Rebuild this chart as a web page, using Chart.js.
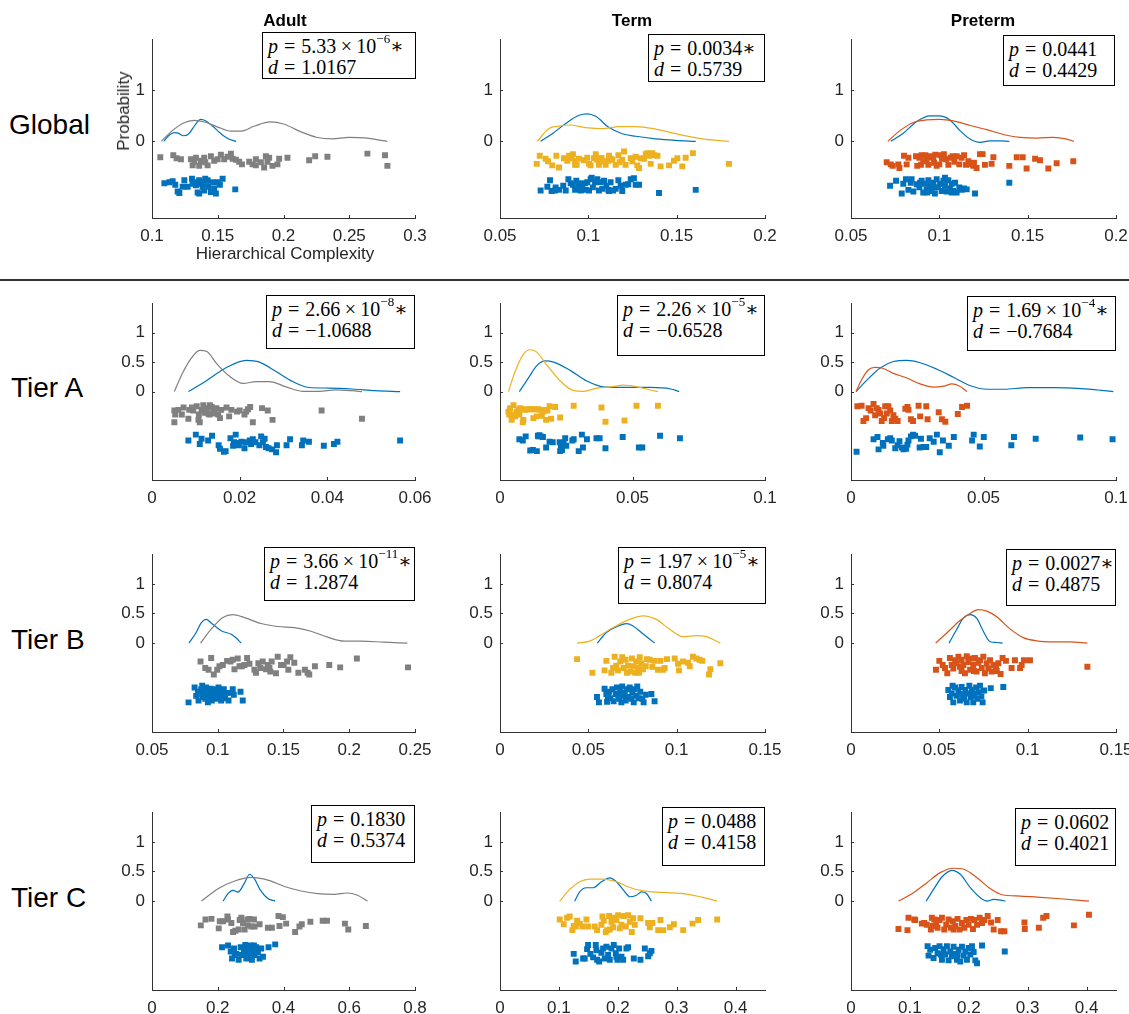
<!DOCTYPE html>
<html>
<head>
<meta charset="utf-8">
<title>Hierarchical complexity raincloud panels</title>
<script src="https://cdn.jsdelivr.net/npm/chart.js@4.4.1/dist/chart.umd.min.js"></script>
<style>
    body { margin: 0; background: #fff; }
    #fig { position: relative; width: 1129px; height: 1014px; overflow: hidden; background: #fff; font-family: "Liberation Sans", Arial, sans-serif; color: #000; }
    #fig canvas { position: absolute; }
    .row-label { position: absolute; font-size: 28px; line-height: 30px; white-space: nowrap; }
    .col-title { position: absolute; width: 200px; margin-left: -100px; text-align: center; font-size: 17px; line-height: 20px; font-weight: bold; }
    .axis-label { position: absolute; font-size: 17px; line-height: 20px; color: #262626; white-space: nowrap; }
    .stat { position: absolute; box-sizing: border-box; border: 1px solid #000; background: #fff; padding: 3px 0 0 5px;
            font-family: "Liberation Serif", "DejaVu Serif", serif; font-size: 20px; line-height: 21px; white-space: nowrap; }
    .stat .rel { margin: 0 0.3em; }
    .stat .bin { margin: 0 0.22em; }
    .stat sup { font-size: 13px; line-height: 0; position: relative; top: -2px; }
    .sep { position: absolute; left: 0; top: 279px; width: 1129px; height: 2px; background: #333; }
</style>
</head>
<body>
<div id="fig">
    <div class="sep"></div>
</div>
<script>
// ---- data: density curves [x, probability] and jittered points [x, y] ----

// Global
const gAdultCurve = [[0.107,0],[0.115,0.2],[0.124,0.36],[0.132,0.41],[0.140,0.38],[0.150,0.28],[0.160,0.2],[0.168,0.2],[0.178,0.3],[0.190,0.38],[0.200,0.34],[0.212,0.2],[0.225,0.08],[0.237,0.05],[0.250,0.08],[0.262,0.07],[0.272,0.03],[0.279,0]];
const gAdultBlueCurve = [[0.109,0],[0.113,0.12],[0.117,0.17],[0.120,0.16],[0.124,0.11],[0.128,0.15],[0.133,0.33],[0.137,0.43],[0.141,0.40],[0.146,0.30],[0.152,0.16],[0.158,0.05],[0.164,0]];
const gAdultPts = [[0.1063,-0.31],[0.1162,-0.27],[0.1187,-0.33],[0.122,-0.35],[0.1296,-0.35],[0.1322,-0.4],[0.1334,-0.32],[0.1359,-0.48],[0.1397,-0.32],[0.1405,-0.41],[0.1423,-0.47],[0.1448,-0.29],[0.1473,-0.38],[0.1499,-0.35],[0.1524,-0.26],[0.1549,-0.35],[0.1575,-0.3],[0.16,-0.24],[0.1613,-0.34],[0.1638,-0.36],[0.1663,-0.4],[0.1684,-0.45],[0.1739,-0.4],[0.1765,-0.45],[0.179,-0.35],[0.1828,-0.41],[0.1853,-0.51],[0.1866,-0.29],[0.1878,-0.4],[0.1891,-0.32],[0.1916,-0.48],[0.1954,-0.45],[0.1967,-0.34],[0.203,-0.32],[0.2195,-0.37],[0.2241,-0.29],[0.2334,-0.3],[0.2638,-0.24],[0.2772,-0.27],[0.279,-0.48],[0.1309,-0.47],[0.1372,-0.38],[0.179,-0.47]];
const gAdultBluePts = [[0.1094,-0.82],[0.1132,-0.8],[0.1157,-0.78],[0.1177,-0.85],[0.1195,-0.98],[0.1208,-1.01],[0.1233,-0.89],[0.1246,-0.76],[0.1271,-0.89],[0.1304,-0.73],[0.1322,-0.8],[0.1334,-0.86],[0.1347,-1.0],[0.1359,-1.02],[0.1372,-0.83],[0.1385,-0.89],[0.1397,-0.96],[0.1405,-0.73],[0.1415,-0.83],[0.143,-0.89],[0.1448,-0.99],[0.1461,-0.8],[0.1473,-0.92],[0.1486,-1.02],[0.1499,-0.8],[0.1516,-0.85],[0.1537,-0.73],[0.1309,-0.83],[0.1359,-0.76],[0.1385,-0.8],[0.1633,-0.94],[0.1423,-0.76]];

const gTermCurve = [[0.0711,0],[0.0777,0.25],[0.0834,0.30],[0.089,0.32],[0.0985,0.27],[0.108,0.25],[0.1174,0.29],[0.1268,0.29],[0.1381,0.24],[0.1494,0.15],[0.1645,0.05],[0.1796,0]];
const gTermBlueCurve = [[0.073,0],[0.0796,0.15],[0.0872,0.35],[0.0947,0.51],[0.0994,0.54],[0.1042,0.49],[0.1117,0.27],[0.1192,0.15],[0.1268,0.10],[0.1381,0.05],[0.1494,0.02],[0.1608,0]];
const gTermPts = [[0.0708,-0.44],[0.0725,-0.28],[0.0758,-0.34],[0.0772,-0.39],[0.0796,-0.47],[0.0819,-0.28],[0.0834,-0.51],[0.0881,-0.38],[0.0891,-0.28],[0.0904,-0.33],[0.0913,-0.25],[0.0925,-0.38],[0.0934,-0.46],[0.0947,-0.34],[0.0975,-0.37],[0.0994,-0.32],[0.1004,-0.44],[0.1013,-0.47],[0.1032,-0.33],[0.1042,-0.25],[0.1051,-0.36],[0.106,-0.46],[0.1075,-0.33],[0.1085,-0.39],[0.1098,-0.46],[0.1113,-0.38],[0.1117,-0.28],[0.1126,-0.34],[0.1136,-0.36],[0.1155,-0.46],[0.1177,-0.41],[0.1192,-0.36],[0.1202,-0.2],[0.1211,-0.46],[0.124,-0.33],[0.1249,-0.39],[0.1268,-0.3],[0.1277,-0.47],[0.1287,-0.52],[0.1296,-0.33],[0.1315,-0.34],[0.1325,-0.25],[0.1334,-0.23],[0.1343,-0.28],[0.1362,-0.23],[0.1372,-0.27],[0.1391,-0.28],[0.1409,-0.49],[0.1457,-0.47],[0.1485,-0.38],[0.1504,-0.33],[0.1532,-0.49],[0.1551,-0.32],[0.1592,-0.23],[0.1796,-0.44],[0.0925,-0.46],[0.107,-0.33],[0.117,-0.27],[0.0862,-0.33],[0.1353,-0.44]];
const gTermBluePts = [[0.073,-0.96],[0.0768,-0.89],[0.0783,-0.76],[0.0792,-0.97],[0.0811,-0.96],[0.0834,-0.95],[0.0858,-0.87],[0.0872,-0.96],[0.0887,-0.74],[0.09,-0.82],[0.0913,-0.85],[0.0925,-0.95],[0.0932,-0.77],[0.0947,-0.9],[0.0957,-0.96],[0.0966,-0.85],[0.0981,-0.82],[0.0994,-0.8],[0.1004,-0.96],[0.1013,-0.74],[0.1019,-0.71],[0.1026,-0.9],[0.1038,-0.8],[0.1051,-0.74],[0.106,-0.96],[0.107,-0.8],[0.1079,-0.93],[0.1089,-0.77],[0.1102,-0.87],[0.1113,-0.95],[0.1126,-0.8],[0.114,-0.96],[0.1155,-0.93],[0.117,-0.76],[0.1183,-0.87],[0.1192,-0.97],[0.1211,-0.85],[0.1226,-0.84],[0.124,-0.74],[0.1258,-0.72],[0.1268,-0.85],[0.1287,-0.85],[0.14,-1.01],[0.1608,-0.95],[0.0947,-0.82],[0.0985,-0.95],[0.1117,-0.97],[0.0815,-0.9]];

const gPretermCurve = [[0.0708,0],[0.0777,0.21],[0.0853,0.37],[0.0928,0.42],[0.1004,0.43],[0.1079,0.40],[0.1174,0.31],[0.1268,0.23],[0.1381,0.12],[0.1457,0.08],[0.1551,0.065],[0.1645,0.08],[0.1721,0.045],[0.1762,0]];
const gPretermBlueCurve = [[0.0725,0],[0.0796,0.16],[0.0872,0.39],[0.0947,0.50],[0.0998,0.50],[0.106,0.42],[0.1117,0.21],[0.1174,0.045],[0.123,-0.02],[0.1287,0.01],[0.1343,0.01],[0.1396,0]];
const gPretermPts = [[0.0702,-0.41],[0.0725,-0.45],[0.0736,-0.48],[0.0768,-0.45],[0.0774,-0.52],[0.08,-0.28],[0.0815,-0.45],[0.0825,-0.32],[0.0868,-0.29],[0.0875,-0.48],[0.0887,-0.32],[0.0896,-0.46],[0.0909,-0.39],[0.0921,-0.27],[0.0928,-0.35],[0.0938,-0.46],[0.0947,-0.29],[0.0957,-0.31],[0.097,-0.42],[0.0977,-0.26],[0.0985,-0.48],[0.1,-0.45],[0.1008,-0.27],[0.1015,-0.34],[0.1026,-0.25],[0.1038,-0.35],[0.1051,-0.46],[0.1064,-0.32],[0.1075,-0.29],[0.1085,-0.4],[0.1098,-0.29],[0.1113,-0.45],[0.1126,-0.32],[0.114,-0.27],[0.1151,-0.46],[0.1164,-0.39],[0.1183,-0.45],[0.1196,-0.42],[0.1211,-0.52],[0.123,-0.25],[0.1245,-0.25],[0.1258,-0.46],[0.1296,-0.44],[0.1306,-0.31],[0.1396,-0.48],[0.1438,-0.31],[0.1472,-0.31],[0.1494,-0.53],[0.1542,-0.34],[0.157,-0.37],[0.1617,-0.53],[0.1664,-0.43],[0.1758,-0.39],[0.09,-0.27],[0.0966,-0.32],[0.1192,-0.48]];
const gPretermBluePts = [[0.0721,-0.87],[0.0755,-0.77],[0.0787,-1.02],[0.0811,-0.74],[0.0825,-0.95],[0.0838,-0.81],[0.0853,-0.98],[0.0872,-0.84],[0.0887,-0.9],[0.09,-0.77],[0.0909,-1.0],[0.0919,-0.83],[0.0928,-0.94],[0.0938,-0.76],[0.0947,-0.87],[0.0957,-0.97],[0.0966,-0.81],[0.0975,-1.02],[0.0985,-0.74],[0.0994,-0.9],[0.1004,-0.83],[0.1013,-0.97],[0.1023,-0.77],[0.1032,-0.87],[0.1042,-0.98],[0.1051,-0.76],[0.106,-0.92],[0.107,-0.83],[0.1079,-0.97],[0.1089,-0.81],[0.1098,-1.0],[0.1113,-0.9],[0.1126,-0.95],[0.114,-0.92],[0.1155,-0.94],[0.1202,-1.02],[0.1396,-0.81],[0.0891,-0.81],[0.0932,-1.0],[0.097,-0.9],[0.1032,-0.71],[0.107,-1.0],[0.0796,-0.83],[0.0843,-0.74]];

// Tier A
const aAdultCurve = [[0.0051,0],[0.0068,0.29],[0.0087,0.54],[0.0109,0.70],[0.0125,0.68],[0.0147,0.48],[0.0177,0.26],[0.0208,0.14],[0.0238,0.17],[0.0268,0.17],[0.0306,0.08],[0.0343,0.005],[0.0381,0.005],[0.0419,0.03],[0.0457,0.015],[0.0479,0]];
const aAdultBlueCurve = [[0.0083,0],[0.0125,0.19],[0.017,0.41],[0.0215,0.53],[0.0245,0.50],[0.0283,0.34],[0.0321,0.17],[0.0358,0.07],[0.0404,0.06],[0.0457,0.044],[0.0509,0.016],[0.0566,0]];
const aAdultPts = [[0.0051,-0.32],[0.0051,-0.52],[0.0053,-0.39],[0.006,-0.31],[0.0068,-0.39],[0.0072,-0.27],[0.0083,-0.46],[0.0085,-0.31],[0.0091,-0.27],[0.0094,-0.32],[0.0102,-0.25],[0.0106,-0.48],[0.0109,-0.52],[0.0113,-0.31],[0.0117,-0.23],[0.0121,-0.36],[0.0125,-0.28],[0.0128,-0.37],[0.0132,-0.23],[0.0136,-0.26],[0.014,-0.31],[0.0143,-0.37],[0.0147,-0.28],[0.0151,-0.39],[0.0155,-0.45],[0.0158,-0.31],[0.017,-0.27],[0.0176,-0.42],[0.0181,-0.31],[0.0194,-0.34],[0.02,-0.32],[0.0211,-0.39],[0.0215,-0.34],[0.0219,-0.3],[0.0224,-0.26],[0.023,-0.52],[0.0251,-0.28],[0.0264,-0.32],[0.0275,-0.48],[0.0387,-0.32],[0.0479,-0.46],[0.0107,-0.39],[0.0131,-0.39]];
const aAdultBluePts = [[0.0083,-0.83],[0.01,-0.73],[0.0109,-0.89],[0.0113,-0.8],[0.0128,-0.83],[0.0137,-0.75],[0.0152,-0.91],[0.0155,-0.97],[0.0164,-1.02],[0.0168,-1.01],[0.0179,-0.79],[0.0185,-0.92],[0.0191,-0.73],[0.0194,-0.87],[0.0198,-0.91],[0.0204,-0.85],[0.0211,-0.96],[0.0215,-0.86],[0.0223,-0.83],[0.023,-0.81],[0.0236,-0.86],[0.0245,-0.91],[0.0249,-0.76],[0.0253,-0.86],[0.0257,-0.8],[0.026,-0.94],[0.0266,-0.96],[0.0274,-0.98],[0.0283,-1.03],[0.0285,-0.91],[0.0307,-0.91],[0.0315,-0.81],[0.0342,-0.91],[0.0345,-0.83],[0.0358,-0.85],[0.0392,-0.92],[0.0415,-0.89],[0.0423,-0.85],[0.0566,-0.83],[0.0187,-0.86],[0.0226,-0.89]];

const aTermCurve = [[0.0032,0],[0.0057,0.34],[0.0088,0.63],[0.0114,0.71],[0.0139,0.67],[0.0177,0.45],[0.0227,0.18],[0.0278,0.016],[0.0316,0.005],[0.0366,0.06],[0.0417,0.08],[0.0467,0.11],[0.0518,0.08],[0.0568,0.027],[0.0596,0]];
const aTermBlueCurve = [[0.0073,0],[0.0107,0.23],[0.0139,0.44],[0.017,0.52],[0.0202,0.50],[0.0265,0.36],[0.0328,0.18],[0.0391,0.08],[0.0467,0.07],[0.0568,0.07],[0.0644,0.044],[0.0676,0]];
const aTermPts = [[0.0032,-0.34],[0.0038,-0.28],[0.0044,-0.48],[0.0048,-0.39],[0.0051,-0.23],[0.0057,-0.42],[0.0063,-0.34],[0.0069,-0.31],[0.0076,-0.28],[0.0082,-0.3],[0.0088,-0.48],[0.0095,-0.31],[0.0101,-0.3],[0.0114,-0.3],[0.0126,-0.45],[0.0133,-0.3],[0.0139,-0.42],[0.0152,-0.31],[0.0158,-0.41],[0.0164,-0.34],[0.017,-0.31],[0.0174,-0.48],[0.0179,-0.32],[0.0187,-0.25],[0.0193,-0.46],[0.0208,-0.26],[0.0227,-0.44],[0.0278,-0.24],[0.0383,-0.27],[0.0398,-0.51],[0.047,-0.49],[0.0515,-0.24],[0.0596,-0.24],[0.0035,-0.39],[0.012,-0.3],[0.0145,-0.3],[0.0073,-0.39],[0.0086,-0.52]];
const aTermBluePts = [[0.0073,-0.81],[0.0086,-0.83],[0.0097,-0.76],[0.0114,-1.0],[0.0124,-0.99],[0.0139,-1.01],[0.0143,-0.75],[0.0149,-0.74],[0.0154,-0.76],[0.0162,-0.77],[0.0174,-0.95],[0.0187,-0.85],[0.0199,-0.86],[0.0225,-0.86],[0.023,-0.92],[0.0234,-0.99],[0.024,-0.87],[0.0246,-0.79],[0.025,-0.92],[0.0273,-0.83],[0.0278,-0.81],[0.0297,-1.01],[0.0309,-0.73],[0.0313,-0.95],[0.0328,-0.81],[0.0364,-0.79],[0.0376,-0.79],[0.0398,-0.96],[0.0463,-0.77],[0.0524,-0.95],[0.0537,-0.95],[0.0604,-0.75],[0.0679,-0.79],[0.0227,-1.01],[0.0145,-0.76]];

const aPretermCurve = [[0.0019,0],[0.004,0.2],[0.0066,0.37],[0.0091,0.41],[0.0116,0.40],[0.016,0.31],[0.0211,0.23],[0.0261,0.13],[0.0312,0.077],[0.035,0.093],[0.0381,0.13],[0.0407,0.10],[0.0438,0]];
const aPretermBlueCurve = [[0.0019,0],[0.0059,0.19],[0.011,0.40],[0.016,0.51],[0.0211,0.53],[0.0261,0.49],[0.0324,0.38],[0.0388,0.24],[0.0451,0.10],[0.0514,0.04],[0.0577,0.04],[0.0665,0.066],[0.0766,0.066],[0.0867,0.05],[0.0943,0.022],[0.099,0]];
const aPretermPts = [[0.0024,-0.25],[0.004,-0.24],[0.0047,-0.5],[0.0057,-0.45],[0.0066,-0.28],[0.0085,-0.21],[0.0091,-0.4],[0.0097,-0.28],[0.0104,-0.31],[0.0116,-0.5],[0.0125,-0.45],[0.0129,-0.25],[0.0135,-0.37],[0.0141,-0.25],[0.0148,-0.32],[0.0154,-0.5],[0.016,-0.4],[0.0167,-0.46],[0.0176,-0.5],[0.0205,-0.29],[0.0213,-0.26],[0.0217,-0.31],[0.0226,-0.47],[0.0234,-0.5],[0.0255,-0.24],[0.0261,-0.42],[0.0284,-0.25],[0.0289,-0.47],[0.0331,-0.35],[0.0343,-0.47],[0.0356,-0.51],[0.0403,-0.38],[0.0419,-0.26],[0.0438,-0.24],[0.0074,-0.32],[0.011,-0.37]];
const aPretermBluePts = [[0.0021,-1.02],[0.0085,-0.81],[0.01,-0.77],[0.0104,-0.98],[0.012,-0.87],[0.0139,-0.81],[0.0148,-0.79],[0.0154,-0.83],[0.0167,-0.96],[0.0176,-0.91],[0.0183,-0.84],[0.0192,-0.95],[0.0198,-0.98],[0.0208,-0.97],[0.0217,-0.83],[0.0226,-0.76],[0.0234,-0.73],[0.0242,-0.75],[0.0259,-0.95],[0.0264,-0.8],[0.0274,-0.94],[0.0284,-0.94],[0.0297,-0.79],[0.0312,-0.85],[0.0324,-0.73],[0.0335,-1.03],[0.0347,-0.83],[0.0369,-0.92],[0.0388,-0.77],[0.0457,-0.83],[0.0463,-0.73],[0.0486,-0.93],[0.0501,-0.77],[0.0605,-0.91],[0.0615,-0.77],[0.0697,-0.8],[0.0865,-0.78],[0.0987,-0.81],[0.0122,-0.92],[0.0213,-0.9]];

// Tier B
const bAdultCurve = [[0.0869,0],[0.095,0.235],[0.1039,0.43],[0.1114,0.48],[0.1203,0.43],[0.1329,0.33],[0.1456,0.28],[0.1582,0.26],[0.1709,0.20],[0.1835,0.10],[0.1961,0.033],[0.2088,0.033],[0.2265,0.016],[0.2442,0]];
const bAdultBlueCurve = [[0.0781,0],[0.0836,0.18],[0.0874,0.34],[0.0912,0.40],[0.095,0.34],[0.1026,0.21],[0.1102,0.15],[0.114,0.087],[0.1178,0]];
const bAdultPts = [[0.0869,-0.31],[0.0905,-0.42],[0.093,-0.45],[0.095,-0.25],[0.097,-0.53],[0.0996,-0.45],[0.1013,-0.39],[0.1039,-0.37],[0.1071,-0.3],[0.1097,-0.31],[0.1114,-0.28],[0.1127,-0.44],[0.1152,-0.26],[0.1165,-0.39],[0.1183,-0.39],[0.1203,-0.37],[0.1223,-0.25],[0.1241,-0.35],[0.1291,-0.5],[0.1309,-0.34],[0.1324,-0.42],[0.1342,-0.31],[0.1367,-0.44],[0.1393,-0.42],[0.14,-0.48],[0.141,-0.31],[0.1443,-0.51],[0.1456,-0.23],[0.1481,-0.37],[0.1501,-0.37],[0.1527,-0.31],[0.1537,-0.45],[0.1552,-0.24],[0.1582,-0.33],[0.1613,-0.5],[0.1663,-0.45],[0.1683,-0.5],[0.1696,-0.53],[0.1739,-0.39],[0.1848,-0.37],[0.1931,-0.41],[0.2058,-0.26],[0.2447,-0.41],[0.1279,-0.45],[0.138,-0.37]];
const bAdultBluePts = [[0.0778,-1.0],[0.0824,-0.75],[0.0836,-0.89],[0.0849,-0.82],[0.0854,-0.97],[0.0869,-0.86],[0.0874,-0.78],[0.0887,-0.91],[0.0894,-0.82],[0.0905,-0.94],[0.0912,-0.75],[0.092,-0.87],[0.0925,-1.0],[0.093,-0.84],[0.0937,-0.91],[0.0945,-0.77],[0.095,-0.86],[0.0955,-0.97],[0.0963,-0.82],[0.097,-0.9],[0.0975,-0.78],[0.0988,-0.94],[0.0996,-0.84],[0.1006,-0.75],[0.1013,-0.91],[0.1021,-0.84],[0.1026,-0.97],[0.1039,-0.87],[0.1046,-0.78],[0.1056,-0.93],[0.1071,-0.84],[0.1082,-0.97],[0.1097,-0.84],[0.1114,-0.78],[0.1122,-0.87],[0.1173,-0.82],[0.119,-0.97],[0.09,-0.87],[0.098,-0.87],[0.0882,-0.72]];

const bTermCurve = [[0.0436,0],[0.0508,0.033],[0.0564,0.126],[0.064,0.262],[0.0734,0.40],[0.0809,0.46],[0.0885,0.40],[0.096,0.235],[0.1036,0.109],[0.1111,0.126],[0.1168,0.109],[0.1247,0]];
const bTermBlueCurve = [[0.0551,0],[0.0602,0.18],[0.0658,0.273],[0.0715,0.328],[0.0753,0.29],[0.08,0.18],[0.0875,0]];
const bTermPts = [[0.0436,-0.27],[0.0523,-0.5],[0.0592,-0.46],[0.0602,-0.3],[0.063,-0.5],[0.0649,-0.23],[0.0658,-0.38],[0.0668,-0.46],[0.0681,-0.31],[0.0692,-0.24],[0.07,-0.42],[0.0711,-0.28],[0.0725,-0.38],[0.0738,-0.48],[0.0747,-0.26],[0.0757,-0.39],[0.0766,-0.5],[0.0772,-0.31],[0.0781,-0.42],[0.0791,-0.24],[0.08,-0.34],[0.0809,-0.44],[0.0825,-0.39],[0.0832,-0.27],[0.0847,-0.28],[0.0862,-0.4],[0.0875,-0.3],[0.0894,-0.45],[0.0908,-0.3],[0.0932,-0.42],[0.0945,-0.27],[0.0989,-0.26],[0.1008,-0.35],[0.1013,-0.46],[0.1036,-0.31],[0.1064,-0.33],[0.1074,-0.39],[0.1092,-0.23],[0.1111,-0.26],[0.113,-0.28],[0.1145,-0.3],[0.1183,-0.53],[0.1191,-0.44],[0.1247,-0.34],[0.064,-0.42],[0.0787,-0.5],[0.0923,-0.45],[0.0719,-0.5]];
const bTermBluePts = [[0.0549,-0.91],[0.056,-1.0],[0.0592,-0.77],[0.0602,-0.86],[0.0606,-0.99],[0.0617,-0.82],[0.0625,-0.93],[0.0636,-0.78],[0.0643,-0.98],[0.0655,-0.86],[0.0662,-0.75],[0.0674,-0.94],[0.0681,-0.82],[0.0687,-1.0],[0.0692,-0.73],[0.07,-0.89],[0.0706,-0.84],[0.0711,-0.97],[0.0719,-0.78],[0.0725,-0.91],[0.0734,-0.75],[0.0743,-0.94],[0.0749,-0.84],[0.0757,-1.0],[0.0762,-0.78],[0.0772,-0.89],[0.0777,-0.73],[0.0785,-0.93],[0.0794,-0.82],[0.0806,-0.94],[0.0813,-1.0],[0.0825,-0.87],[0.0857,-0.86],[0.0875,-0.98],[0.0611,-0.91],[0.0668,-0.87]];

const bPretermCurve = [[0.0479,0],[0.0542,0.17],[0.0617,0.38],[0.0674,0.50],[0.0721,0.565],[0.0768,0.54],[0.0825,0.446],[0.09,0.24],[0.0975,0.092],[0.1051,0.038],[0.1145,0.022],[0.124,0.022],[0.1338,0]];
const bPretermBlueCurve = [[0.0555,0],[0.0598,0.23],[0.0636,0.42],[0.0674,0.48],[0.0711,0.42],[0.0749,0.20],[0.0787,0.022],[0.0825,0.01],[0.0858,0]];
const bPretermPts = [[0.0481,-0.45],[0.05,-0.3],[0.0519,-0.37],[0.0532,-0.42],[0.0545,-0.51],[0.056,-0.25],[0.057,-0.37],[0.0579,-0.43],[0.0589,-0.29],[0.0598,-0.34],[0.0608,-0.23],[0.0617,-0.4],[0.0626,-0.28],[0.0636,-0.37],[0.0645,-0.51],[0.0655,-0.22],[0.0664,-0.32],[0.0674,-0.45],[0.0683,-0.26],[0.0692,-0.37],[0.0702,-0.25],[0.0711,-0.48],[0.0721,-0.33],[0.073,-0.29],[0.074,-0.42],[0.0749,-0.23],[0.0758,-0.51],[0.0768,-0.34],[0.0777,-0.43],[0.0787,-0.29],[0.0796,-0.48],[0.0806,-0.37],[0.0821,-0.42],[0.0834,-0.34],[0.0847,-0.52],[0.0858,-0.25],[0.0877,-0.3],[0.0909,-0.42],[0.0928,-0.29],[0.0957,-0.42],[0.0966,-0.37],[0.0979,-0.29],[0.1013,-0.29],[0.1338,-0.4],[0.0626,-0.47],[0.0696,-0.47],[0.0825,-0.47]];
const bPretermBluePts = [[0.0551,-0.79],[0.056,-0.91],[0.057,-0.85],[0.0579,-1.0],[0.0589,-0.75],[0.0598,-0.89],[0.0608,-0.8],[0.0617,-0.97],[0.0626,-0.74],[0.0632,-0.87],[0.064,-0.94],[0.0647,-0.79],[0.0655,-1.0],[0.0662,-0.85],[0.067,-0.72],[0.0677,-0.91],[0.0685,-0.79],[0.0692,-1.0],[0.07,-0.86],[0.0708,-0.75],[0.0715,-0.94],[0.0723,-0.83],[0.073,-0.72],[0.0738,-0.9],[0.0745,-1.0],[0.0753,-0.8],[0.0791,-0.76],[0.0862,-0.74],[0.0613,-0.86],[0.0689,-0.89],[0.0575,-0.72]];

// Tier C
const cAdultCurve = [[0.1505,0],[0.201,0.21],[0.2515,0.34],[0.302,0.40],[0.3525,0.355],[0.403,0.246],[0.4535,0.17],[0.504,0.126],[0.5545,0.115],[0.595,0.137],[0.625,0.098],[0.6556,0]];
const cAdultBlueCurve = [[0.2162,0],[0.2313,0.126],[0.2465,0.18],[0.2616,0.153],[0.2798,0.29],[0.297,0.453],[0.3121,0.37],[0.3303,0.18],[0.3525,0.044],[0.3747,0]];
const cAdultPts = [[0.1485,-0.41],[0.1626,-0.31],[0.1808,-0.3],[0.203,-0.46],[0.2061,-0.34],[0.2162,-0.34],[0.2293,-0.26],[0.2313,-0.31],[0.2465,-0.52],[0.2535,-0.5],[0.2636,-0.48],[0.2667,-0.32],[0.2717,-0.28],[0.2768,-0.37],[0.2818,-0.48],[0.2899,-0.31],[0.297,-0.3],[0.302,-0.43],[0.3101,-0.31],[0.3121,-0.43],[0.3273,-0.39],[0.3525,-0.45],[0.3646,-0.45],[0.3848,-0.25],[0.3879,-0.42],[0.398,-0.27],[0.4081,-0.38],[0.4354,-0.52],[0.4485,-0.43],[0.4556,-0.39],[0.4818,-0.35],[0.5192,-0.33],[0.5323,-0.33],[0.5869,-0.38],[0.597,-0.48],[0.6505,-0.42],[0.2414,-0.37],[0.2919,-0.41]];
const cAdultBluePts = [[0.2131,-0.78],[0.2313,-0.75],[0.2394,-0.85],[0.2434,-0.97],[0.2495,-0.8],[0.2566,-0.89],[0.2636,-0.99],[0.2697,-0.78],[0.2737,-0.91],[0.2798,-0.83],[0.2838,-0.74],[0.2869,-0.97],[0.2919,-0.8],[0.297,-0.89],[0.3,-0.75],[0.304,-0.99],[0.3081,-0.83],[0.3121,-0.91],[0.3172,-0.78],[0.3222,-0.86],[0.3273,-0.97],[0.3323,-0.8],[0.3374,-0.94],[0.3545,-0.78],[0.3747,-0.73],[0.2515,-0.91],[0.2899,-0.91],[0.3101,-0.75]];

const cTermCurve = [[0.1014,0],[0.1184,0.197],[0.1354,0.326],[0.1524,0.37],[0.1751,0.37],[0.1977,0.326],[0.2204,0.23],[0.2431,0.174],[0.2771,0.146],[0.3167,0.118],[0.345,0.062],[0.3688,0]];
const cTermBlueCurve = [[0.1269,0],[0.1354,0.157],[0.1467,0.225],[0.1581,0.225],[0.1722,0.326],[0.1864,0.393],[0.1977,0.326],[0.2119,0.157],[0.2204,0.073],[0.2317,0.10],[0.2402,0.157],[0.2487,0.129],[0.2572,0]];
const cTermPts = [[0.1014,-0.31],[0.1082,-0.39],[0.1139,-0.28],[0.1184,-0.26],[0.1229,-0.49],[0.1252,-0.42],[0.1286,-0.43],[0.1309,-0.33],[0.1354,-0.38],[0.1399,-0.43],[0.1467,-0.31],[0.1496,-0.43],[0.1609,-0.43],[0.1649,-0.49],[0.1739,-0.26],[0.1762,-0.33],[0.1796,-0.52],[0.1819,-0.49],[0.1853,-0.25],[0.1892,-0.35],[0.1921,-0.44],[0.1949,-0.28],[0.1977,-0.32],[0.2006,-0.24],[0.2034,-0.46],[0.2062,-0.4],[0.2102,-0.25],[0.2136,-0.43],[0.2176,-0.24],[0.2204,-0.35],[0.2238,-0.52],[0.2261,-0.29],[0.2289,-0.4],[0.2385,-0.29],[0.2516,-0.37],[0.2544,-0.44],[0.2589,-0.37],[0.2686,-0.49],[0.2725,-0.32],[0.2771,-0.49],[0.2884,-0.44],[0.2952,-0.39],[0.3111,-0.49],[0.3269,-0.38],[0.3365,-0.32],[0.3688,-0.31],[0.1722,-0.4],[0.1864,-0.48]];
const cTermBluePts = [[0.1252,-0.89],[0.1286,-1.02],[0.1411,-0.97],[0.1439,-0.97],[0.1479,-0.81],[0.1496,-0.74],[0.1535,-0.89],[0.1581,-0.95],[0.1626,-0.74],[0.1649,-0.99],[0.1683,-1.02],[0.1722,-0.87],[0.1751,-0.8],[0.1779,-0.97],[0.1807,-0.77],[0.1836,-0.91],[0.1864,-0.99],[0.1892,-0.8],[0.1932,-0.74],[0.1966,-0.88],[0.1994,-0.99],[0.2023,-0.8],[0.2062,-0.94],[0.2091,-0.99],[0.2147,-0.8],[0.2176,-0.78],[0.2272,-0.97],[0.2385,-0.99],[0.2459,-0.8],[0.2516,-0.93],[0.2544,-0.88],[0.2572,-0.84],[0.1637,-0.83],[0.1977,-0.94]];

const cPretermCurve = [[0.0806,0],[0.1061,0.141],[0.1288,0.31],[0.1515,0.48],[0.1742,0.554],[0.1913,0.537],[0.214,0.395],[0.2367,0.209],[0.2565,0.107],[0.2877,0.085],[0.3161,0.068],[0.3558,0.04],[0.4041,0]];
const cPretermBlueCurve = [[0.1277,0],[0.1402,0.198],[0.1544,0.407],[0.1714,0.52],[0.1856,0.452],[0.2026,0.226],[0.2196,0.056],[0.231,0],[0.2423,0.028],[0.2537,0.017],[0.2622,0]];
const cPretermPts = [[0.0806,-0.47],[0.0959,-0.49],[0.0976,-0.28],[0.1073,-0.31],[0.109,-0.32],[0.1203,-0.38],[0.1243,-0.37],[0.1288,-0.4],[0.1356,-0.48],[0.1373,-0.28],[0.1413,-0.31],[0.1447,-0.4],[0.147,-0.45],[0.1504,-0.32],[0.1544,-0.28],[0.1583,-0.48],[0.1617,-0.4],[0.1657,-0.31],[0.1697,-0.45],[0.1731,-0.34],[0.1771,-0.42],[0.181,-0.3],[0.1844,-0.48],[0.1884,-0.37],[0.1924,-0.45],[0.1958,-0.32],[0.1998,-0.4],[0.2037,-0.3],[0.2071,-0.47],[0.2094,-0.32],[0.214,-0.4],[0.2185,-0.28],[0.2225,-0.37],[0.2264,-0.32],[0.2321,-0.25],[0.2378,-0.36],[0.2423,-0.48],[0.2491,-0.32],[0.2548,-0.51],[0.2605,-0.51],[0.2946,-0.36],[0.2951,-0.47],[0.319,-0.45],[0.3263,-0.28],[0.332,-0.25],[0.3785,-0.41],[0.4041,-0.23],[0.139,-0.42],[0.1742,-0.48]];
const cPretermBluePts = [[0.13,-0.76],[0.1317,-0.92],[0.1345,-0.82],[0.1402,-0.96],[0.143,-0.79],[0.147,-0.88],[0.1504,-0.76],[0.1544,-0.99],[0.1572,-0.81],[0.16,-0.9],[0.1629,-0.76],[0.1657,-1.0],[0.1686,-0.85],[0.1714,-0.93],[0.1742,-0.77],[0.1771,-0.89],[0.1799,-0.99],[0.1827,-0.82],[0.1856,-1.02],[0.1884,-0.77],[0.1913,-0.92],[0.1941,-0.85],[0.1969,-0.99],[0.1998,-0.79],[0.2026,-0.9],[0.2054,-0.76],[0.2083,-0.86],[0.2111,-1.0],[0.214,-1.05],[0.2225,-0.75],[0.2611,-0.85],[0.1527,-0.9],[0.181,-0.9]];

// ---- axes: limits and ticks ----
const globalYRange = [-1.5, 2];
const tierYRange = [-1.5, 1.5];
const globalYTicks = [0, 1];
const tierYTicks = [0, 0.5, 1];

const gAdultXTicks = [0.1, 0.15, 0.2, 0.25, 0.3];
const gTermXTicks = [0.05, 0.1, 0.15, 0.2];
const gPretermXTicks = [0.05, 0.1, 0.15, 0.2];
const aAdultXTicks = [0, 0.02, 0.04, 0.06];
const aTermXTicks = [0, 0.05, 0.1];
const aPretermXTicks = [0, 0.05, 0.1];
const bAdultXTicks = [0.05, 0.1, 0.15, 0.2, 0.25];
const bTermXTicks = [0, 0.05, 0.1, 0.15];
const bPretermXTicks = [0, 0.05, 0.1, 0.15];
const cAdultXTicks = [0, 0.2, 0.4, 0.6, 0.8];
const cTermXTicks = [0, 0.1, 0.2, 0.3, 0.4];
const cPretermXTicks = [0, 0.1, 0.2, 0.3, 0.4];
const cTermXMax = 0.45;

// ---- statistics text ----
const pValues = [
    ['5.33', '\u22126', true], ['0.0034', null, true], ['0.0441', null, false],
    ['2.66', '\u22128', true], ['2.26', '\u22125', true], ['1.69', '\u22124', true],
    ['3.66', '\u221211', true], ['1.97', '\u22125', true], ['0.0027', null, true],
    ['0.1830', null, false], ['0.0488', null, false], ['0.0602', null, false]
];
const dValues = ['1.0167', '0.5739', '0.4429', '\u22121.0688', '\u22120.6528', '\u22120.7684',
                 '1.2874', '0.8074', '0.4875', '0.5374', '0.4158', '0.4021'];

const rowNames = ['Global', 'Tier A', 'Tier B', 'Tier C'];
const colNames = ['Adult', 'Term', 'Preterm'];

// ---- colours ----
const BLUE = '#0072BD';
const groupColors = ['#808080', '#EDB120', '#D95319'];
const AXIS_COLOR = '#333333';
const TICK_COLOR = '#262626';

// ---- layout (pixels) ----
const cols = [{ left: 152, w: 263 }, { left: 500, w: 265 }, { left: 851, w: 265 }];
const rows = [{ top: 32, h: 186 }, { top: 296, h: 184 }, { top: 547, h: 185 }, { top: 805, h: 185 }];
const statBoxes = [
    [262, 32, 416, 79], [648, 34, 765, 82], [1003, 35, 1115, 86],
    [266, 295, 415, 349], [617, 295, 765, 356], [967, 296, 1116, 351],
    [264, 547, 415, 601], [618, 547, 766, 604], [1006, 549, 1116, 606],
    [311, 805, 415, 863], [662, 807, 765, 866], [1015, 808, 1116, 866]
];
const rowLabelCenters = [125, 388, 640, 898];
const colTitleCenters = [285, 632, 983];
const AXW = 45, AXH = 32, PADT = 10, PADR = 26;

const panels = [
    { curve: gAdultCurve, blueCurve: gAdultBlueCurve, pts: gAdultPts, bluePts: gAdultBluePts, xTicks: gAdultXTicks, xMax: 0.3 },
    { curve: gTermCurve, blueCurve: gTermBlueCurve, pts: gTermPts, bluePts: gTermBluePts, xTicks: gTermXTicks, xMax: 0.2 },
    { curve: gPretermCurve, blueCurve: gPretermBlueCurve, pts: gPretermPts, bluePts: gPretermBluePts, xTicks: gPretermXTicks, xMax: 0.2 },
    { curve: aAdultCurve, blueCurve: aAdultBlueCurve, pts: aAdultPts, bluePts: aAdultBluePts, xTicks: aAdultXTicks, xMax: 0.06 },
    { curve: aTermCurve, blueCurve: aTermBlueCurve, pts: aTermPts, bluePts: aTermBluePts, xTicks: aTermXTicks, xMax: 0.1 },
    { curve: aPretermCurve, blueCurve: aPretermBlueCurve, pts: aPretermPts, bluePts: aPretermBluePts, xTicks: aPretermXTicks, xMax: 0.1 },
    { curve: bAdultCurve, blueCurve: bAdultBlueCurve, pts: bAdultPts, bluePts: bAdultBluePts, xTicks: bAdultXTicks, xMax: 0.25 },
    { curve: bTermCurve, blueCurve: bTermBlueCurve, pts: bTermPts, bluePts: bTermBluePts, xTicks: bTermXTicks, xMax: 0.15 },
    { curve: bPretermCurve, blueCurve: bPretermBlueCurve, pts: bPretermPts, bluePts: bPretermBluePts, xTicks: bPretermXTicks, xMax: 0.15 },
    { curve: cAdultCurve, blueCurve: cAdultBlueCurve, pts: cAdultPts, bluePts: cAdultBluePts, xTicks: cAdultXTicks, xMax: 0.8 },
    { curve: cTermCurve, blueCurve: cTermBlueCurve, pts: cTermPts, bluePts: cTermBluePts, xTicks: cTermXTicks, xMax: cTermXMax },
    { curve: cPretermCurve, blueCurve: cPretermBlueCurve, pts: cPretermPts, bluePts: cPretermBluePts, xTicks: cPretermXTicks, xMax: cTermXMax }
];

const fig = document.getElementById('fig');
const toXY = arr => arr.map(([x, y]) => ({ x, y }));

// MATLAB-style ticks pointing into the axes
const inwardTicks = {
    id: 'inwardTicks',
    afterDraw(chart) {
        const ctx = chart.ctx, xs = chart.scales.x, ys = chart.scales.y;
        ctx.save();
        ctx.strokeStyle = AXIS_COLOR;
        ctx.lineWidth = 1;
        ctx.beginPath();
        xs.ticks.forEach(t => {
            const px = Math.round(xs.getPixelForValue(t.value)) + 0.5;
            ctx.moveTo(px, xs.top);
            ctx.lineTo(px, xs.top - 3);
        });
        ys.ticks.forEach(t => {
            const py = Math.round(ys.getPixelForValue(t.value)) + 0.5;
            ctx.moveTo(ys.right, py);
            ctx.lineTo(ys.right + 3, py);
        });
        ctx.stroke();
        ctx.restore();
    }
};

function curveSet(data, color) {
    return { data: toXY(data), showLine: true, borderColor: color, borderWidth: 1.2,
             pointRadius: 0, cubicInterpolationMode: 'monotone', fill: false };
}

function pointSet(data, color) {
    return { data: toXY(data), showLine: false, pointStyle: 'rect', pointRadius: 4.2,
             backgroundColor: color, borderColor: color, borderWidth: 0 };
}

function makePanel(i) {
    const p = panels[i];
    const r = Math.floor(i / 3), c = i % 3;
    const col = cols[c], row = rows[r];
    const color = groupColors[c];
    const yRange = r === 0 ? globalYRange : tierYRange;
    const yTicks = r === 0 ? globalYTicks : tierYTicks;

    const canvas = document.createElement('canvas');
    canvas.width = AXW + col.w + PADR;
    canvas.height = PADT + row.h + AXH;
    canvas.style.left = (col.left - AXW) + 'px';
    canvas.style.top = (row.top - PADT) + 'px';
    fig.appendChild(canvas);

    const tickFont = { family: '"Liberation Sans", Arial, sans-serif', size: 17 };
    new Chart(canvas, {
        type: 'scatter',
        data: {
            datasets: [
                pointSet(p.pts, color),
                pointSet(p.bluePts, BLUE),
                curveSet(p.curve, color),
                curveSet(p.blueCurve, BLUE)
            ]
        },
        options: {
            responsive: false,
            animation: false,
            layout: { padding: { left: 0, top: PADT, right: PADR, bottom: 0 } },
            plugins: { legend: { display: false }, tooltip: { enabled: false } },
            scales: {
                x: {
                    type: 'linear',
                    min: p.xTicks[0],
                    max: p.xMax,
                    afterBuildTicks: s => { s.ticks = p.xTicks.map(v => ({ value: v })); },
                    afterFit: s => { s.height = AXH; },
                    grid: { drawOnChartArea: false, drawTicks: false },
                    border: { display: true, color: AXIS_COLOR, width: 1 },
                    ticks: { color: TICK_COLOR, font: tickFont, padding: 8, maxRotation: 0, autoSkip: false,
                             callback: v => String(v) }
                },
                y: {
                    type: 'linear',
                    min: yRange[0],
                    max: yRange[1],
                    afterBuildTicks: s => { s.ticks = yTicks.map(v => ({ value: v })); },
                    afterFit: s => { s.width = AXW; },
                    grid: { drawOnChartArea: false, drawTicks: false },
                    border: { display: true, color: AXIS_COLOR, width: 1 },
                    ticks: { color: TICK_COLOR, font: tickFont, padding: 7, autoSkip: false,
                             callback: v => String(v) }
                }
            }
        },
        plugins: [inwardTicks]
    });

    // statistics box
    const [bl, bt, br, bb] = statBoxes[i];
    const [mant, expo, star] = pValues[i];
    const box = document.createElement('div');
    box.className = 'stat';
    box.style.left = bl + 'px';
    box.style.top = bt + 'px';
    box.style.width = (br - bl) + 'px';
    box.style.height = (bb - bt) + 'px';
    let pText = '<i>p</i><span class="rel">=</span>' + mant;
    if (expo) pText += '<span class="bin">\u00d7</span>10<sup>' + expo + '</sup>';
    if (star) pText += '\u2217';
    box.innerHTML = pText + '<br><i>d</i><span class="rel">=</span>' + dValues[i];
    fig.appendChild(box);
}

for (let i = 0; i < panels.length; i++) makePanel(i);

// row labels
rowNames.forEach((name, r) => {
    const el = document.createElement('div');
    el.className = 'row-label';
    el.textContent = name;
    el.style.left = (r === 0 ? 9 : 11) + 'px';
    el.style.top = (rowLabelCenters[r] - 15) + 'px';
    fig.appendChild(el);
});

// column titles
colNames.forEach((name, c) => {
    const el = document.createElement('div');
    el.className = 'col-title';
    el.textContent = name;
    el.style.left = colTitleCenters[c] + 'px';
    el.style.top = '11px';
    fig.appendChild(el);
});

// axis labels on the first panel
const yLab = document.createElement('div');
yLab.className = 'axis-label';
yLab.textContent = 'Probability';
yLab.style.left = '124px';
yLab.style.top = '111px';
yLab.style.transform = 'translate(-50%, -50%) rotate(-90deg)';
fig.appendChild(yLab);

const xLab = document.createElement('div');
xLab.className = 'axis-label';
xLab.textContent = 'Hierarchical Complexity';
xLab.style.left = '285px';
xLab.style.top = '244px';
xLab.style.transform = 'translateX(-50%)';
fig.appendChild(xLab);
</script>
</body>
</html>
